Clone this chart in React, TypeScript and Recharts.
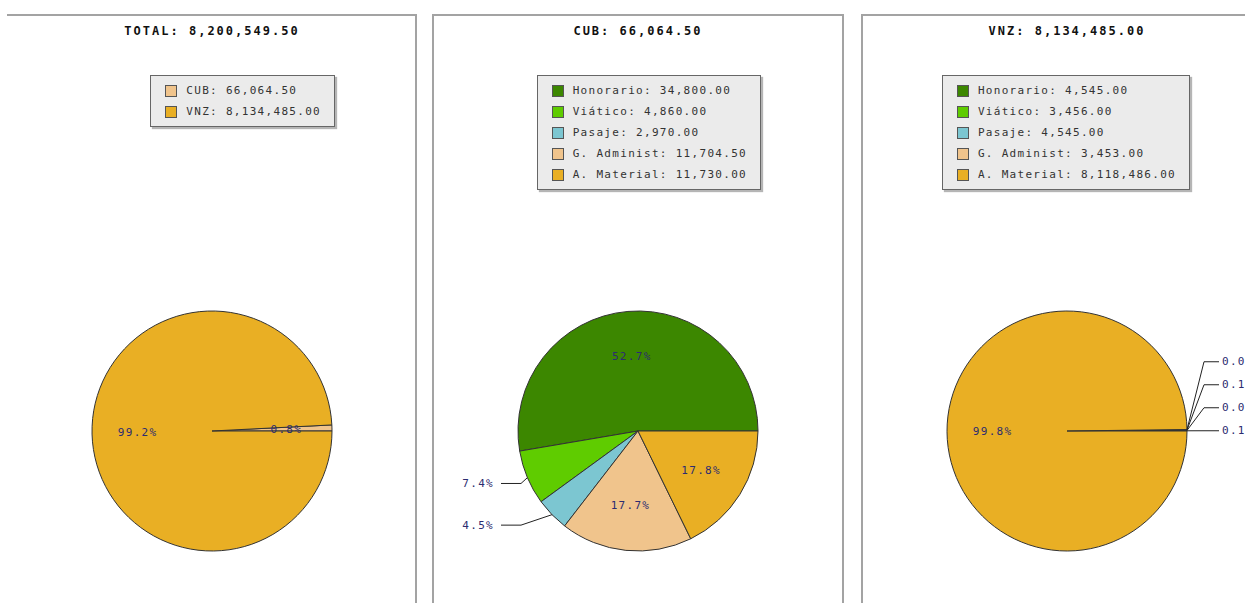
import React, { useMemo } from 'react';
import { Cell, Legend, Pie, PieChart } from 'recharts';

// Totals per country
const totalNames = ['CUB', 'VNZ'];
const totalValues = [66064.5, 8134485];
const totalColors = ['#f0c48c', '#e9af24'];

// Breakdown by concept
const conceptNames = ['Honorario', 'Viático', 'Pasaje', 'G. Administ', 'A. Material'];
const cubValues = [34800, 4860, 2970, 11704.5, 11730];
const vnzValues = [4545, 3456, 4545, 3453, 8118486];
const conceptColors = ['#3c8700', '#5fcc00', '#7cc6d1', '#f0c48c', '#e9af24'];

const RAD = Math.PI / 180;
const MONO = '"DejaVu Sans Mono", "Liberation Mono", monospace';

const fmt = (v: number) =>
  v.toLocaleString('en-US', { minimumFractionDigits: 2, maximumFractionDigits: 2 });

interface PanelProps {
  titleLabel: string;
  names: string[];
  values: number[];
  colors: string[];
  left: number;
  outside: number[];
  showLeftBorder?: boolean;
}

const CX = 205;
const CY = 431;
const R = 120;

const PiePanel = ({ titleLabel, names, values, colors, left, outside, showLeftBorder = true }: PanelProps) => {
  const total = values.reduce((a, b) => a + b, 0);
  const data = names.map((n, i) => ({ name: n, value: values[i] }));

  // work out where the outside labels go so they don't overlap
  const labelY = useMemo(() => {
    const res: Record<number, number> = {};
    let acc = 0;
    let prevRight: number | null = null;
    let prevLeft: number | null = null;
    values.forEach((v, i) => {
      const ang = (v / total) * 360;
      const mid = acc + ang / 2;
      acc += ang;
      if (!outside.includes(i)) return;
      let y = CY - (R + 15) * Math.sin(mid * RAD);
      const rightSide = Math.cos(mid * RAD) >= 0;
      if (rightSide) {
        if (prevRight !== null && y > prevRight - 23) y = prevRight - 23;
        prevRight = y;
      } else {
        if (prevLeft !== null && y < prevLeft + 23) y = prevLeft + 23;
        prevLeft = y;
      }
      res[i] = y;
    });
    return res;
  }, [values, total, outside]);

  const renderLabel = (props: any) => {
    const { cx, cy, midAngle, outerRadius, percent, index } = props;
    const text = (percent * 100).toFixed(1) + '%';
    const style = { fontFamily: MONO, fontSize: 11, letterSpacing: 1.3 };
    if (!outside.includes(index)) {
      const r = outerRadius * 0.62;
      const x = cx + r * Math.cos(-midAngle * RAD);
      const y = cy + r * Math.sin(-midAngle * RAD);
      return (
        <text x={x} y={y} fill="#2c2c70" textAnchor="middle" dominantBaseline="central" style={style}>
          {text}
        </text>
      );
    }
    const ex = cx + outerRadius * Math.cos(-midAngle * RAD);
    const ey = cy + outerRadius * Math.sin(-midAngle * RAD);
    const y = labelY[index];
    const right = Math.cos(midAngle * RAD) >= 0;
    const elbowX = right ? cx + outerRadius + 17 : cx - outerRadius + 3;
    const endX = right ? cx + outerRadius + 32 : cx - outerRadius - 17;
    const textX = right ? cx + outerRadius + 35 : cx - outerRadius - 24;
    return (
      <g>
        <polyline points={`${ex},${ey} ${elbowX},${y} ${endX},${y}`} fill="none" stroke="#222" strokeWidth={1} />
        <text x={textX} y={y} fill="#2c2c70" textAnchor={right ? 'start' : 'end'} dominantBaseline="central" style={style}>
          {text}
        </text>
      </g>
    );
  };

  const renderLegend = () => (
    <div
      style={{
        background: '#ebebeb',
        border: '1px solid #666',
        boxShadow: '2px 2px 1px #b5b5b5',
        padding: '4px 13px 4px 14px',
        fontFamily: MONO,
        fontSize: 11,
        letterSpacing: 1.3,
        color: '#333',
        whiteSpace: 'nowrap',
      }}
    >
      {names.map((n, i) => (
        <div key={n} style={{ height: 21, display: 'flex', alignItems: 'center' }}>
          <span
            style={{
              display: 'inline-block',
              width: 10,
              height: 10,
              background: colors[i],
              border: '1px solid #555',
              marginRight: 9,
            }}
          />
          {n}: {fmt(values[i])}
        </div>
      ))}
    </div>
  );

  return (
    <>
      <div
        style={{
          position: 'absolute',
          left: showLeftBorder ? left - 1 : left,
          top: 14,
          width: 408,
          height: 640,
          borderTop: '2px solid #a3a3a3',
          borderRight: '2px solid #a3a3a3',
          borderLeft: showLeftBorder ? '2px solid #a3a3a3' : 'none',
        }}
      />
      <div
        style={{
          position: 'absolute',
          left,
          top: 24,
          width: 410,
          textAlign: 'center',
          fontFamily: MONO,
          fontWeight: 'bold',
          fontSize: 12,
          letterSpacing: 2,
          color: '#111',
        }}
      >
        {titleLabel}: {fmt(total)}
      </div>
      <div style={{ position: 'absolute', left, top: 0 }}>
        <PieChart width={410} height={603} margin={{ top: 0, right: 0, bottom: 0, left: 0 }}>
          <Legend
            layout="vertical"
            align="right"
            verticalAlign="top"
            wrapperStyle={{ top: 75, right: 82, width: 'auto' }}
            content={renderLegend}
          />
          <Pie
            data={data}
            dataKey="value"
            nameKey="name"
            cx={CX}
            cy={CY}
            outerRadius={R}
            startAngle={0}
            endAngle={360}
            stroke="#333"
            strokeWidth={1}
            label={renderLabel}
            labelLine={false}
            isAnimationActive={false}
          >
            {data.map((d, i) => (
              <Cell key={d.name} fill={colors[i]} />
            ))}
          </Pie>
        </PieChart>
      </div>
    </>
  );
};

export default function App() {
  return (
    <div style={{ position: 'absolute', left: 0, top: 0, width: 1245, height: 603, overflow: 'hidden', background: '#fff' }}>
      <PiePanel titleLabel="TOTAL" names={totalNames} values={totalValues} colors={totalColors} left={7} outside={[]} showLeftBorder={false} />
      <PiePanel titleLabel="CUB" names={conceptNames} values={cubValues} colors={conceptColors} left={433} outside={[1, 2]} />
      <PiePanel titleLabel="VNZ" names={conceptNames} values={vnzValues} colors={conceptColors} left={862} outside={[0, 1, 2, 3]} />
    </div>
  );
}
